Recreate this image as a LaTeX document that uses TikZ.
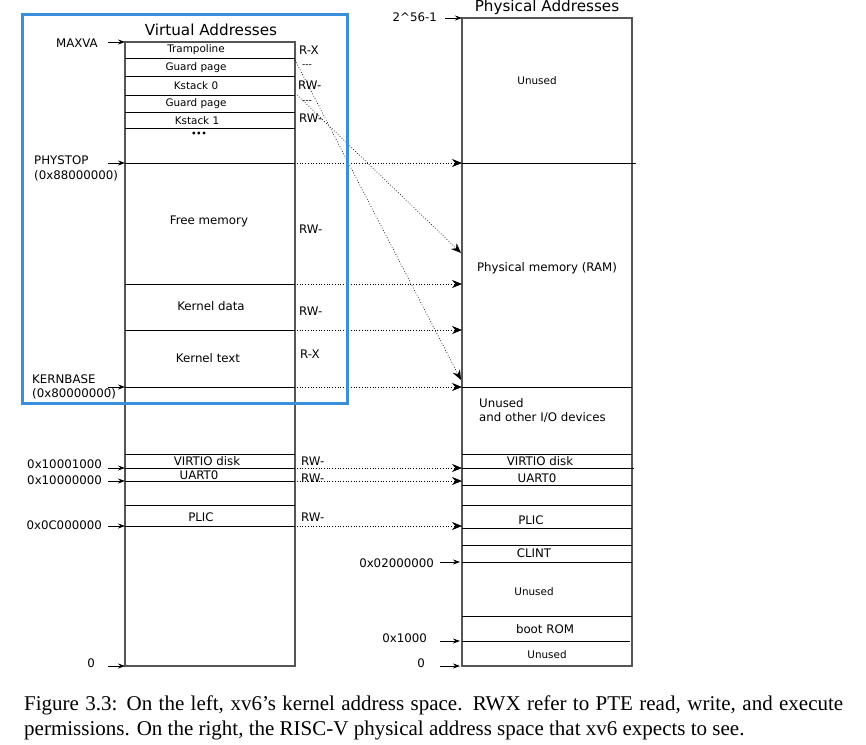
\documentclass[tikz,border=0pt]{standalone}
\usepackage{fontspec}
\setmainfont{Liberation Serif}
\newfontfamily\diagfont{DejaVu Sans}
\usetikzlibrary{arrows.meta}
\definecolor{frameblue}{RGB}{58,143,220}
\definecolor{colgray}{RGB}{85,85,85}

\begin{document}
\begin{tikzpicture}[x=1pt, y=-1pt,
  font=\diagfont\fontsize{11.8}{13}\selectfont,
  column/.style={draw=colgray, line width=1.6pt},
  split/.style={draw=black, line width=0.9pt},
  cell/.style={inner sep=0pt},
  small/.style={inner sep=0pt, font=\diagfont\fontsize{10.4}{11}\selectfont},
  perm/.style={inner sep=0pt, anchor=west},
  addrlabel/.style={inner sep=0pt, anchor=east},
  addr/.style={-{Stealth[length=7pt,width=5pt]}, line width=0.8pt},
  maps/.style={dotted, -{Stealth[length=10pt,width=8pt]}, line width=0.7pt},
  title/.style={inner sep=0pt, font=\diagfont\fontsize{15.2}{17}\selectfont},
  caption/.style={inner sep=0pt, anchor=base west,
                  font=\rmfamily\fontsize{21}{24}\selectfont},
]
\useasboundingbox (0,0) rectangle (866,744);

% ── Titles ────────────────────────────────────────────────────────────────────
\node[title] (vtitle) at (211,30) {Virtual Addresses};
\node[title] (ptitle) at (547,7) {Physical Addresses};

% ── Virtual address column ────────────────────────────────────────────────────
\draw[column] (125,42) rectangle (295,666);
\foreach \y in {58,76,95,112,128,163,284,330,387,454,468,481,505,526}
  \draw[split] (125,\y) -- (295,\y);

\node[small] (tramp)  at (196,50)  {Trampoline};
\node[small] (guard0) at (196,68)  {Guard page};
\node[small] (kstk0)  at (196,86)  {Kstack 0};
\node[small] (guard1) at (196,104) {Guard page};
\node[small] (kstk1)  at (197,121) {Kstack 1};
\node[cell, font=\diagfont\bfseries\fontsize{8}{9}\selectfont] (vdots) at (199,134) {•••};
\node[cell] (freemem) at (209,221) {Free memory};
\node[cell] (kdata)   at (211,306) {Kernel data};
\node[cell] (ktext)   at (208,358) {Kernel text};
\node[cell] (vvirtio) at (207,461) {VIRTIO disk};
\node[cell] (vuart)   at (199,475) {UART0};
\node[cell] (vplic)   at (201,517) {PLIC};

% ── Permissions ───────────────────────────────────────────────────────────────
\node[perm] (ptramp)  at (299,50)  {R-X};
\node[perm, font=\diagfont\fontsize{9}{10}\selectfont] (pguard0) at (302,66) {-{}-{}-};
\node[perm] (pkstk0)  at (298,85)  {RW-};
\node[perm, font=\diagfont\fontsize{9}{10}\selectfont] (pguard1) at (302,102) {-{}-{}-};
\node[perm] (pkstk1)  at (299,118) {RW-};
\node[perm] (pfree)   at (299,229) {RW-};
\node[perm] (pkdata)  at (299,311) {RW-};
\node[perm] (pktext)  at (300,354) {R-X};
\node[perm] (pvirtio) at (301,461) {RW-};
\node[perm] (puart)   at (301,478) {RW-};
\node[perm] (pplic)   at (301,517) {RW-};

% ── Virtual addresses ─────────────────────────────────────────────────────────
\node[addrlabel] (maxva) at (98,43) {MAXVA};
\node[inner sep=0pt, anchor=west] (phystop) at (34,160) {PHYSTOP};
\node[inner sep=0pt, anchor=west] (phystopv) at (34,176) {(0x88000000)};
\node[inner sep=0pt, anchor=west] (kernbase) at (32,379) {KERNBASE};
\node[inner sep=0pt, anchor=west] (kernbasev) at (32,394) {(0x80000000)};
\node[addrlabel] (avirtio) at (102,464) {0x10001000};
\node[addrlabel] (auart)   at (102,480) {0x10000000};
\node[addrlabel] (aplic)   at (102,525) {0x0C000000};
\node[addrlabel] (azero)   at (95,663)  {0};

\foreach \n/\y in {maxva/42, phystop/163, kernbase/387, virtio/468,
                   uart/481, plic/526, zero/666} {
  \coordinate (t-\n) at (108,\y);
  \coordinate (v-\n) at (125,\y);
  \draw[addr] (t-\n) -- (v-\n);
}

% ── Physical address column ───────────────────────────────────────────────────
\draw[column] (462,18) rectangle (632,666);
\draw[split] (462,163) -- (636,163);
\draw[split] (462,468) -- (634,468);
\draw[split] (462,641) -- (630,641);
\foreach \y in {387,454,485,505,528,545,562,616}
  \draw[split] (462,\y) -- (632,\y);

\node[small] (punused) at (537,81)  {Unused};
\node[cell]  (pram)    at (547,268) {Physical memory (RAM)};
\node[cell, anchor=west] (pio1) at (479,403) {Unused};
\node[cell, anchor=west] (pio2) at (479,418) {and other I/O devices};
\node[cell]  (pvirtiob) at (540,461) {VIRTIO disk};
\node[cell]  (puartb)   at (537,478) {UART0};
\node[cell]  (pplicb)   at (531,520) {PLIC};
\node[cell]  (pclint)   at (534,553) {CLINT};
\node[small] (punused2) at (534,592) {Unused};
\node[cell]  (prom)     at (545,629) {boot ROM};
\node[small] (punused3) at (547,655) {Unused};

% ── Physical addresses ────────────────────────────────────────────────────────
\node[addrlabel] (atop)   at (437,17)  {2\^{}56-1};
\node[addrlabel] (aclint) at (434,563) {0x02000000};
\node[addrlabel] (arom)   at (427,638) {0x1000};
\node[addrlabel] (apzero) at (425,663) {0};

\coordinate (s-top) at (445,18);   \coordinate (e-top) at (462,18);
\draw[addr] (s-top) -- (e-top);
\foreach \n/\y in {clint/562, rom/641, pzero/666} {
  \coordinate (s-\n) at (440,\y);
  \coordinate (e-\n) at (460,\y);
  \draw[addr] (s-\n) -- (e-\n);
}

% ── Mappings ──────────────────────────────────────────────────────────────────
\foreach \n/\y in {phystop/163, kdata/284, ktext/330, kernbase/387,
                   virtio/468, uart/481, plic/526} {
  \coordinate (m-\n) at (297,\y);
  \coordinate (p-\n) at (462,\y);
  \draw[maps] (m-\n) -- (p-\n);
}
\coordinate (m-kstk0) at (295,60);  \coordinate (p-kstk0) at (461,380);
\coordinate (m-kstk1) at (297,95);  \coordinate (p-kstk1) at (461,253);
\draw[maps] (m-kstk0) -- (p-kstk0);
\draw[maps] (m-kstk1) -- (p-kstk1);

% ── Kernel frame ──────────────────────────────────────────────────────────────
\draw[frameblue, line width=3pt] (22,14) rectangle (347,403);

% ── Caption ───────────────────────────────────────────────────────────────────
\node[caption] (cap1) at (24,710) {\makebox[819pt][s]{Figure 3.3: On the left, xv6's kernel address space. RWX refer to PTE read, write, and execute}};
\node[caption] (cap2) at (24,735) {permissions. On the right, the RISC-V physical address space that xv6 expects to see.};

\end{tikzpicture}
\end{document}
